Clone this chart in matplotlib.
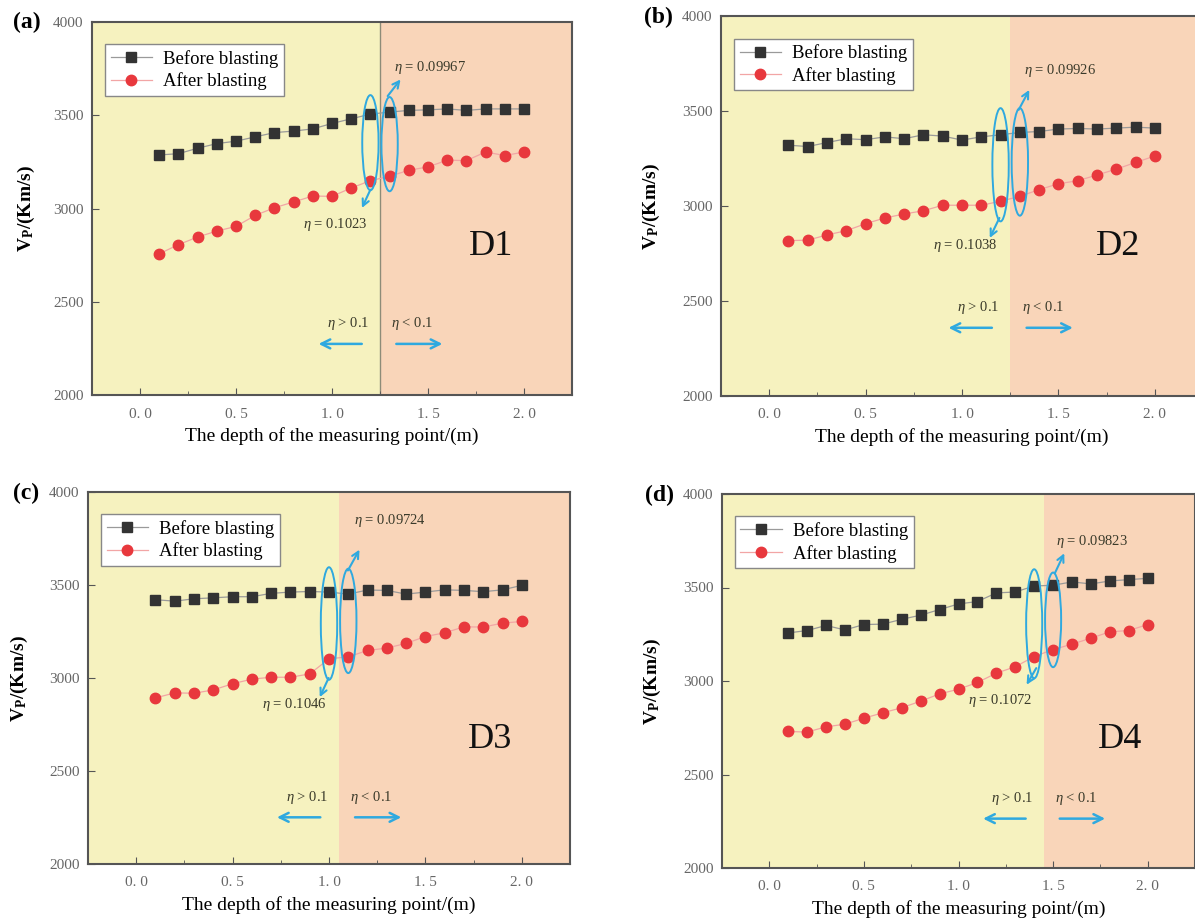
import matplotlib.pyplot as plt
from matplotlib.patches import Ellipse

plt.rcParams['font.family'] = ['Liberation Serif', 'DejaVu Serif']
plt.rcParams['mathtext.fontset'] = 'custom'
plt.rcParams['mathtext.rm'] = 'Liberation Serif'
plt.rcParams['mathtext.it'] = 'Liberation Serif:italic'
plt.rcParams['mathtext.bf'] = 'Liberation Serif:bold'

# data
depth = [0.1, 0.2, 0.3, 0.4, 0.5, 0.6, 0.7, 0.8, 0.9, 1.0,
         1.1, 1.2, 1.3, 1.4, 1.5, 1.6, 1.7, 1.8, 1.9, 2.0]

before_d1 = [3287, 3294, 3323, 3348, 3361, 3384, 3407, 3415, 3427, 3456,
             3481, 3506, 3517, 3526, 3529, 3534, 3526, 3534, 3534, 3534]
after_d1 = [2757, 2806, 2847, 2879, 2904, 2963, 3004, 3035, 3067, 3065,
            3110, 3149, 3173, 3205, 3223, 3259, 3257, 3303, 3284, 3303]

before_d2 = [3320, 3313, 3334, 3354, 3349, 3364, 3354, 3375, 3368, 3347,
             3364, 3375, 3387, 3392, 3405, 3408, 3405, 3410, 3415, 3410]
after_d2 = [2818, 2820, 2848, 2870, 2907, 2937, 2958, 2975, 3004, 3004,
            3004, 3025, 3051, 3086, 3117, 3133, 3163, 3194, 3229, 3263]

before_d3 = [3421, 3413, 3426, 3431, 3437, 3437, 3455, 3462, 3465, 3462,
             3451, 3473, 3471, 3451, 3462, 3474, 3471, 3464, 3474, 3498]
after_d3 = [2893, 2920, 2918, 2936, 2969, 2994, 3004, 3004, 3022, 3103,
            3114, 3148, 3161, 3186, 3223, 3243, 3275, 3274, 3295, 3304]

before_d4 = [3257, 3270, 3297, 3273, 3302, 3304, 3330, 3352, 3382, 3412,
             3425, 3471, 3476, 3508, 3512, 3530, 3519, 3535, 3542, 3549]
after_d4 = [2730, 2727, 2755, 2769, 2801, 2830, 2857, 2892, 2931, 2956,
            2992, 3042, 3076, 3131, 3168, 3197, 3229, 3263, 3270, 3302]

before_all = [before_d1, before_d2, before_d3, before_d4]
after_all = [after_d1, after_d2, after_d3, after_d4]

hole_names = ['D1', 'D2', 'D3', 'D4']
panel_letters = ['(a)', '(b)', '(c)', '(d)']
eta_high = ['0.1023', '0.1038', '0.1046', '0.1072']
eta_low = ['0.09967', '0.09926', '0.09724', '0.09823']
boundary = [1.25, 1.25, 1.05, 1.45]

xticks = [0.0, 0.5, 1.0, 1.5, 2.0]
xtick_labels = ['0. 0', '0. 5', '1. 0', '1. 5', '2. 0']
yticks = [2000, 2500, 3000, 3500, 4000]

# layout (pixels of a 1195x924 figure): left, top, right, bottom
axes_px = [(92, 22, 572, 395), (721, 16, 1203, 396),
           (88, 492, 570, 864), (722, 494, 1195, 868)]
letter_px = [(27, 22), (658, 17), (26, 493), (660, 495)]
ylabel_x = [-0.115, -0.122, -0.12, -0.125]

# ellipse centres / heights, arrow ends and text positions (data units)
ell1 = [(1.2, 3353, 510), (1.2, 3217, 596), (1.0, 3293, 605), (1.4, 3306, 583)]
ell2 = [(1.3, 3345, 505), (1.3, 3232, 566), (1.1, 3307, 561), (1.5, 3327, 506)]
up_arrow = [((1.29, 3603), (1.357, 3692)), ((1.294, 3506), (1.349, 3611)),
            ((1.098, 3578), (1.158, 3690)), ((1.509, 3576), (1.559, 3683))]
up_text = [(1.508, 3755), (1.51, 3713), (1.317, 3848), (1.706, 3745)]
dn_arrow = [((1.2, 3101), (1.156, 3003)), ((1.194, 2937), (1.144, 2832)),
            ((0.998, 3000), (0.952, 2897)), ((1.411, 3069), (1.36, 2980))]
dn_text = [(1.015, 2913), (1.015, 2792), (0.818, 2856), (1.218, 2896)]
harrow_y = [2274, 2359, 2251, 2264]
htext_y = [2385, 2464, 2357, 2374]
name_pos = [(1.83, 2797), (1.81, 2788), (1.836, 2671), (1.852, 2689)]

yellow = '#f6f2bf'
peach = '#f9d5b9'
blue = '#2fa9df'
W, H = 1195, 924

fig = plt.figure(figsize=(11.95, 9.24), dpi=100)

for i in range(4):
    l, t, r, b = axes_px[i]
    ax = fig.add_axes([l / W, 1 - b / H, (r - l) / W, (b - t) / H])
    d = boundary[i]
    ax.axvspan(-0.25, d, color=yellow, zorder=0, lw=0)
    ax.axvspan(d, 2.25, color=peach, zorder=0, lw=0)
    if i == 0:
        ax.axvline(d, color='#8e8c78', lw=1.0, zorder=1)

    ax.plot(depth, before_all[i], color='#9a9a9a', lw=0.9, marker='s',
            markersize=6.5, markerfacecolor='#333333', markeredgecolor='#333333',
            label='Before blasting', zorder=3)
    ax.plot(depth, after_all[i], color='#f2a5a5', lw=0.9, marker='o',
            markersize=7.5, markerfacecolor='#e8383d', markeredgecolor='#e8383d',
            label='After blasting', zorder=3)

    ax.set_xlim(-0.25, 2.25)
    ax.set_ylim(2000, 4000)
    ax.set_xticks(xticks)
    ax.set_xticklabels(xtick_labels)
    ax.set_xticks([0.25, 0.75, 1.25, 1.75], minor=True)
    ax.set_yticks(yticks)
    ax.tick_params(axis='both', which='both', direction='in', colors='#555555',
                   labelcolor='#666666', labelsize=11)
    ax.tick_params(axis='x', which='major', length=5, pad=9)
    ax.tick_params(axis='x', which='minor', length=3)
    ax.tick_params(axis='y', which='major', length=5, pad=6)
    for s in ax.spines.values():
        s.set_color('#555555')
        s.set_linewidth(1.5)

    ax.set_xlabel('The depth of the measuring point/(m)', fontsize=14)
    ax.xaxis.set_label_coords(0.5, -0.085)
    ax.set_ylabel(r'V$_{\mathbf{P}}$/(Km/s)', fontsize=14, fontweight='bold')
    ax.yaxis.set_label_coords(ylabel_x[i], 0.5)

    leg = ax.legend(loc='upper left', bbox_to_anchor=(0.027, 0.94), fontsize=13.5,
                    frameon=True, fancybox=False, edgecolor='#888888',
                    handlelength=2.2, handletextpad=0.6, labelspacing=0.25,
                    borderpad=0.3, borderaxespad=0)
    leg.get_frame().set_linewidth(1.0)
    leg.get_frame().set_alpha(1)

    for (cx, cy, h) in (ell1[i], ell2[i]):
        ax.add_patch(Ellipse((cx, cy), 0.085, h, fill=False, edgecolor=blue,
                             lw=1.4, zorder=4))
    ap = dict(arrowstyle='->', color=blue, lw=1.5, shrinkA=0, shrinkB=0,
              mutation_scale=12)
    ax.annotate('', xy=up_arrow[i][1], xytext=up_arrow[i][0], arrowprops=ap,
                zorder=5)
    ax.annotate('', xy=dn_arrow[i][1], xytext=dn_arrow[i][0], arrowprops=ap,
                zorder=5)
    ax.text(*up_text[i], r'$\eta$ = ' + eta_low[i], fontsize=10.5,
            color='#3a3a2a', ha='center', va='center')
    ax.text(*dn_text[i], r'$\eta$ = ' + eta_high[i], fontsize=10.5,
            color='#3a3a2a', ha='center', va='center')

    ap2 = dict(arrowstyle='->', color=blue, lw=1.8, shrinkA=0, shrinkB=0,
               mutation_scale=16)
    ax.annotate('', xy=(d - 0.32, harrow_y[i]), xytext=(d - 0.095, harrow_y[i]),
                arrowprops=ap2)
    ax.annotate('', xy=(d + 0.325, harrow_y[i]), xytext=(d + 0.085, harrow_y[i]),
                arrowprops=ap2)
    ax.text(d - 0.165, htext_y[i], r'$\eta$ > 0.1', fontsize=10.5,
            color='#3a3a2a', ha='center', va='center')
    ax.text(d + 0.17, htext_y[i], r'$\eta$ < 0.1', fontsize=10.5,
            color='#3a3a2a', ha='center', va='center')

    ax.text(*name_pos[i], hole_names[i], fontsize=26, color='#111111',
            ha='center', va='center')

    lx, ly = letter_px[i]
    fig.text(lx / W, 1 - ly / H, panel_letters[i], fontsize=17,
             fontweight='bold', ha='center', va='center')

fig.savefig('out.png', dpi=100)
